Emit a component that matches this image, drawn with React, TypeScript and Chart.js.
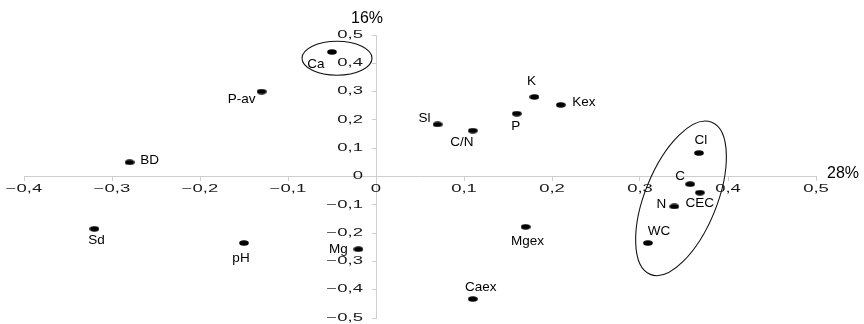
import React, { useEffect, useRef } from 'react';
import { Chart, registerables } from 'chart.js';

Chart.register(...registerables);

// ---- data ----
const variableNames = ['Ca', 'P-av', 'BD', 'Sd', 'pH', 'Mg', 'Caex', 'Mgex', 'Sl', 'C/N', 'P', 'K', 'Kex', 'Cl', 'C', 'CEC', 'N', 'WC'];
const axis1Values = [-0.05, -0.13, -0.28, -0.32, -0.15, -0.02, 0.11, 0.17, 0.07, 0.11, 0.16, 0.18, 0.21, 0.367, 0.357, 0.368, 0.339, 0.309];
const axis2Values = [0.44, 0.30, 0.05, -0.185, -0.235, -0.257, -0.433, -0.178, 0.184, 0.162, 0.222, 0.281, 0.253, 0.083, -0.027, -0.057, -0.106, -0.235];
const axis1Percent = '28%';
const axis2Percent = '16%';
const xTickValues = [-0.4, -0.3, -0.2, -0.1, 0, 0.1, 0.2, 0.3, 0.4, 0.5];
const yTickValues = [-0.5, -0.4, -0.3, -0.2, -0.1, 0, 0.1, 0.2, 0.3, 0.4, 0.5];

// ---- label placement (pixel offsets from each point) ----
const labelOffsets: [number, number][] = [
  [-16, 12], [-20, 8], [20, -2], [2, 11], [-3, 15], [-20, 0], [8, -12], [2, 14], [-13, -6],
  [-11, 12], [-1, 13], [-3, -16], [23, -3], [2, -13], [-10, -8], [0, 11], [-13, -2], [11, -12],
];

// ---- group ellipses (center in data units, radii in px) ----
const groupEllipses = [
  { cx: -0.0443, cy: 0.418, rx: 35, ry: 17, rot: 0 },
  { cx: 0.3466, cy: -0.0772, rx: 36, ry: 82, rot: 0.384 },
];

function fmt(v: number): string {
  const r = Math.round(v * 10) / 10;
  if (r === 0) return '0';
  return (r < 0 ? '\u2212' : '') + Math.abs(r).toFixed(1).replace('.', ',');
}

function drawStretched(ctx: CanvasRenderingContext2D, text: string, x: number, y: number, align: CanvasTextAlign) {
  ctx.save();
  ctx.translate(x, y);
  ctx.scale(1.85, 1);
  ctx.textAlign = align;
  ctx.textBaseline = 'middle';
  ctx.fillText(text, 0, 0);
  ctx.restore();
}

const overlayPlugin = {
  id: 'overlay',
  afterDatasetsDraw(chart: any) {
    const ctx: CanvasRenderingContext2D = chart.ctx;
    const xs = chart.scales.x;
    const ys = chart.scales.y;
    const x0 = xs.getPixelForValue(0);
    const y0 = ys.getPixelForValue(0);
    ctx.save();

    // tick labels (wide, flattened)
    ctx.fillStyle = '#1a1a1a';
    ctx.font = '10px "Liberation Sans", Arial, sans-serif';
    xs.ticks.forEach((t: any) => {
      drawStretched(ctx, fmt(t.value), xs.getPixelForValue(t.value), y0 + 13, 'center');
    });
    ys.ticks.forEach((t: any) => {
      drawStretched(ctx, fmt(t.value), x0 - 13, ys.getPixelForValue(t.value), 'right');
    });

    // percent labels
    ctx.fillStyle = '#000000';
    ctx.font = '16px "Liberation Sans", Arial, sans-serif';
    ctx.textAlign = 'center';
    ctx.textBaseline = 'middle';
    ctx.fillText(axis2Percent, x0 - 9, chart.chartArea.top - 16);
    ctx.fillText(axis1Percent, chart.chartArea.right + 27, y0 - 3);

    // point labels
    ctx.font = '13.5px "Liberation Sans", Arial, sans-serif';
    const meta = chart.getDatasetMeta(0);
    meta.data.forEach((el: any, i: number) => {
      const [dx, dy] = labelOffsets[i];
      ctx.fillText(variableNames[i], el.x + dx, el.y + dy);
    });

    // group ellipses
    ctx.strokeStyle = '#111111';
    ctx.lineWidth = 1.1;
    groupEllipses.forEach((e) => {
      ctx.beginPath();
      ctx.ellipse(xs.getPixelForValue(e.cx), ys.getPixelForValue(e.cy), e.rx, e.ry, e.rot, 0, Math.PI * 2);
      ctx.stroke();
    });
    ctx.restore();
  },
};

export default function App() {
  const canvasRef = useRef<HTMLCanvasElement | null>(null);

  useEffect(() => {
    if (!canvasRef.current) return;
    const dot = document.createElement('canvas');
    dot.width = 10;
    dot.height = 6;
    const dctx = dot.getContext('2d')!;
    dctx.fillStyle = '#000000';
    dctx.beginPath();
    dctx.ellipse(5, 3, 4.8, 2.8, 0, 0, Math.PI * 2);
    dctx.fill();

    const axisColor = '#cfcfcf';
    const chart = new Chart(canvasRef.current, {
      type: 'scatter',
      data: {
        datasets: [
          {
            label: 'loadings',
            data: variableNames.map((_, i) => ({ x: axis1Values[i], y: axis2Values[i] })),
            pointStyle: dot as any,
            pointRadius: 5,
            backgroundColor: '#000000',
            borderColor: '#000000',
          },
        ],
      },
      options: {
        animation: false,
        responsive: false,
        maintainAspectRatio: false,
        layout: { padding: { left: 24, right: 48, top: 35, bottom: 4 } },
        plugins: { legend: { display: false }, tooltip: { enabled: false } },
        scales: {
          x: {
            type: 'linear',
            position: { y: 0 } as any,
            min: xTickValues[0],
            max: xTickValues[xTickValues.length - 1],
            afterBuildTicks: (s: any) => { s.ticks = xTickValues.map((v) => ({ value: v })); },
            ticks: { display: false },
            grid: { drawOnChartArea: false, drawTicks: true, tickLength: 4, color: axisColor },
            border: { display: true, color: axisColor, width: 1 },
          },
          y: {
            type: 'linear',
            position: { x: 0 } as any,
            min: yTickValues[0],
            max: yTickValues[yTickValues.length - 1],
            afterBuildTicks: (s: any) => { s.ticks = yTickValues.map((v) => ({ value: v })); },
            ticks: { display: false },
            grid: { drawOnChartArea: false, drawTicks: true, tickLength: 4, color: axisColor },
            border: { display: true, color: axisColor, width: 1 },
          },
        },
      },
      plugins: [overlayPlugin],
    });
    return () => chart.destroy();
  }, []);

  return (
    <div style={{ position: 'absolute', left: 0, top: 0, width: 864, height: 324, background: '#ffffff' }}>
      <canvas ref={canvasRef} width={864} height={324} style={{ display: 'block' }} />
    </div>
  );
}
